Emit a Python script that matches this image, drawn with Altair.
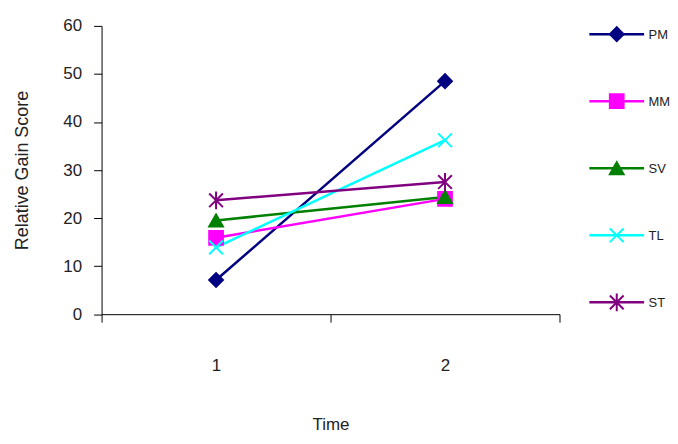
import altair as alt
import pandas as pd

# ---- data ----
series = ["PM", "MM", "SV", "TL", "ST"]
times = ["1", "2"]
pm = [7.1, 48.5]
mm = [15.9, 24.0]
sv = [19.5, 24.4]
tl = [13.9, 36.2]
st = [23.7, 27.5]
y_ticks = [0, 10, 20, 30, 40, 50, 60]

colors = ["#000080", "#FF00FF", "#008000", "#00FFFF", "#800080"]
shapes = [
    "diamond",
    "square",
    "triangle-up",
    "M-1,-1L1,1M-1,1L1,-1",
    "M-1,-1L1,1M-1,1L1,-1M0,-1.3L0,1.3",
]

rows = []
for name, vals in zip(series, [pm, mm, sv, tl, st]):
    for t, v in zip(times, vals):
        rows.append({"series": name, "time": t, "score": v})
df = pd.DataFrame(rows)
legend_df = pd.DataFrame({"series": series})

FONT = "Liberation Sans"
color_scale = alt.Scale(domain=series, range=colors)
shape_scale = alt.Scale(domain=series, range=shapes)

x_enc = alt.X(
    "time:N",
    bandPosition=0.5,
    scale=alt.Scale(type="band", paddingInner=0, paddingOuter=0),
    axis=alt.Axis(
        title="Time",
        tickBand="extent",
        labelAngle=0,
        tickSize=8,
        labelPadding=36,
        labelFontSize=17,
        titleFontSize=17,
        titlePadding=43,
        grid=False,
    ),
)
y_enc = alt.Y(
    "score:Q",
    scale=alt.Scale(domain=[0, 60], nice=False),
    axis=alt.Axis(
        values=y_ticks,
        title="Relative Gain Score",
        grid=False,
        tickSize=8,
        labelPadding=12,
        labelFontSize=17,
        titleFontSize=18,
        titlePadding=32,
    ),
)

base = alt.Chart(df)
lines = base.mark_line(strokeWidth=2.5).encode(
    x=x_enc,
    y=y_enc,
    color=alt.Color("series:N", scale=color_scale, legend=None),
    detail="series:N",
)
points = base.mark_point(filled=True, size=190, strokeWidth=2, opacity=1).encode(
    x=x_enc,
    y=y_enc,
    color=alt.Color("series:N", scale=color_scale, legend=None),
    stroke=alt.Stroke("series:N", scale=color_scale, legend=None),
    shape=alt.Shape("series:N", scale=shape_scale, legend=None),
)
main = alt.layer(lines, points).properties(width=460, height=289.6)

# ---- legend panel ----
leg_y = alt.Y(
    "series:N",
    sort=series,
    scale=alt.Scale(type="point", padding=0.123),
    axis=alt.Axis(
        orient="right",
        title=None,
        domain=False,
        ticks=False,
        labelPadding=4,
        labelFontSize=13,
    ),
)
leg_x_scale = alt.Scale(domain=[0, 1])
leg_base = alt.Chart(legend_df)
leg_rules = leg_base.mark_rule(strokeWidth=2.5).encode(
    x=alt.X(datum=0, type="quantitative", scale=leg_x_scale, axis=None),
    x2=alt.X2(datum=1),
    y=leg_y,
    color=alt.Color("series:N", scale=color_scale, legend=None),
)
leg_points = leg_base.mark_point(filled=True, size=190, strokeWidth=2, opacity=1).encode(
    x=alt.X(datum=0.5, type="quantitative", scale=leg_x_scale, axis=None),
    y=leg_y,
    color=alt.Color("series:N", scale=color_scale, legend=None),
    stroke=alt.Stroke("series:N", scale=color_scale, legend=None),
    shape=alt.Shape("series:N", scale=shape_scale, legend=None),
)
legend = alt.layer(leg_rules, leg_points).properties(width=55, height=286)

chart = (
    alt.hconcat(main, legend, spacing=27)
    .properties(
        padding={"left": 5, "top": 8, "right": 0, "bottom": 0},
        background="white",
    )
    .configure_view(strokeWidth=0)
    .configure_axis(
        labelFont=FONT,
        titleFont=FONT,
        labelColor="#222222",
        titleColor="#222222",
        titleFontWeight="normal",
        domainColor="#000000",
        tickColor="#000000",
        domainWidth=1,
        tickWidth=1,
    )
)

chart.save("out.html", embed_options={"renderer": "svg", "actions": False})
